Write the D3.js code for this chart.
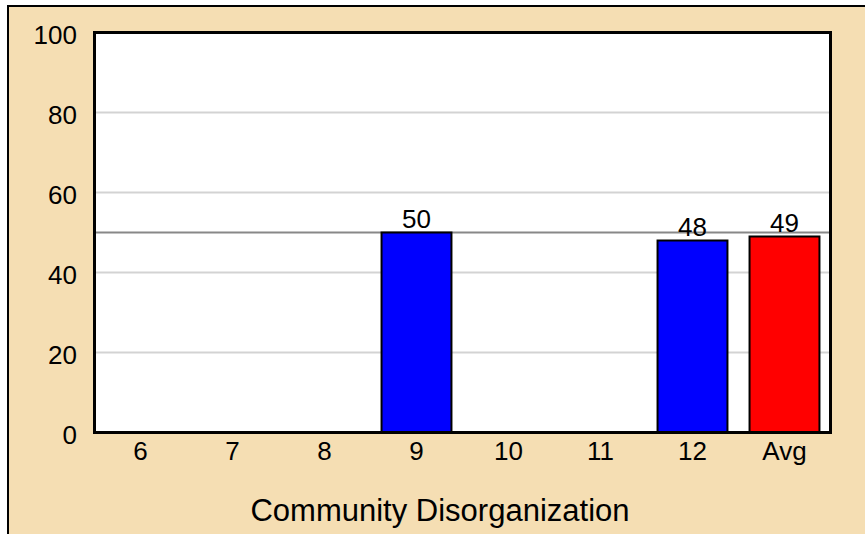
<!DOCTYPE html>
<html>
<head>
<meta charset="utf-8">
<script src="https://cdn.jsdelivr.net/npm/d3@7"></script>
<style>
  html, body { margin: 0; padding: 0; background: #ffffff; }
  svg { display: block; }
  text { font-family: "Liberation Sans", Arial, sans-serif; fill: #000; }
</style>
</head>
<body>
<svg id="chart" width="865" height="534"></svg>
<script>
const categories = ["6", "7", "8", "9", "10", "11", "12", "Avg"];
const values = [null, null, null, 50, null, null, 48, 49];
const barColors = ["#0000ff", "#0000ff", "#0000ff", "#0000ff", "#0000ff", "#0000ff", "#0000ff", "#ff0000"];
const yTicks = [0, 20, 40, 60, 80, 100];
const referenceValue = 50;
const xTitle = "Community Disorganization";

const svg = d3.select("#chart");
const W = 865, H = 534;

// outer panel
svg.append("rect")
  .attr("x", 8).attr("y", 6)
  .attr("width", W + 10).attr("height", H + 10)
  .attr("fill", "#f5deb3")
  .attr("stroke", "#000").attr("stroke-width", 2);

const plot = { left: 94.5, top: 32.5, right: 830.5, bottom: 432.5 };

const x = d3.scaleBand()
  .domain(categories)
  .range([plot.left, plot.right])
  .paddingInner(0.24)
  .paddingOuter(0.12);

const y = d3.scaleLinear()
  .domain([0, 100])
  .range([plot.bottom, plot.top]);

// plot background
svg.append("rect")
  .attr("x", plot.left).attr("y", plot.top)
  .attr("width", plot.right - plot.left).attr("height", plot.bottom - plot.top)
  .attr("fill", "#ffffff");

// gridlines
svg.append("g")
  .selectAll("line")
  .data(yTicks.filter(t => t > 0 && t < 100))
  .join("line")
  .attr("x1", plot.left).attr("x2", plot.right)
  .attr("y1", d => y(d)).attr("y2", d => y(d))
  .attr("stroke", "#d3d3d3").attr("stroke-width", 2);

// reference line
svg.append("line")
  .attr("x1", plot.left).attr("x2", plot.right)
  .attr("y1", y(referenceValue)).attr("y2", y(referenceValue))
  .attr("stroke", "#888888").attr("stroke-width", 2);

const data = categories.map((c, i) => ({ cat: c, value: values[i], color: barColors[i] }))
  .filter(d => d.value != null);

// bars
svg.append("g")
  .selectAll("rect")
  .data(data)
  .join("rect")
  .attr("x", d => x(d.cat))
  .attr("y", d => y(d.value))
  .attr("width", x.bandwidth())
  .attr("height", d => y(0) - y(d.value))
  .attr("fill", d => d.color)
  .attr("stroke", "#000").attr("stroke-width", 2);

// value labels
svg.append("g")
  .selectAll("text")
  .data(data)
  .join("text")
  .attr("x", d => x(d.cat) + x.bandwidth() / 2)
  .attr("y", d => y(d.value) - 5)
  .attr("text-anchor", "middle")
  .attr("font-size", 26)
  .text(d => d.value);

// plot frame
svg.append("rect")
  .attr("x", plot.left).attr("y", plot.top)
  .attr("width", plot.right - plot.left).attr("height", plot.bottom - plot.top)
  .attr("fill", "none")
  .attr("stroke", "#000").attr("stroke-width", 3);

// y axis labels
const yAxis = d3.axisLeft(y).tickValues(yTicks).tickSize(0).tickPadding(0);
const yg = svg.append("g").attr("transform", `translate(77,0)`).call(yAxis);
yg.select(".domain").remove();
yg.selectAll("text")
  .attr("font-size", 26)
  .attr("font-family", "Liberation Sans, Arial, sans-serif")
  .attr("fill", "#000")
  .attr("dy", null)
  .attr("y", 11)
  .attr("x", 0)
  .attr("text-anchor", "end");

// x axis labels
const xAxis = d3.axisBottom(x).tickSize(0).tickPadding(0);
const xg = svg.append("g").attr("transform", `translate(0,${plot.bottom})`).call(xAxis);
xg.select(".domain").remove();
xg.selectAll("text")
  .attr("font-size", 26)
  .attr("font-family", "Liberation Sans, Arial, sans-serif")
  .attr("fill", "#000")
  .attr("dy", null)
  .attr("y", 27);

// x title
svg.append("text")
  .attr("x", 440).attr("y", 521)
  .attr("text-anchor", "middle")
  .attr("font-size", 31)
  .text(xTitle);
</script>
</body>
</html>
